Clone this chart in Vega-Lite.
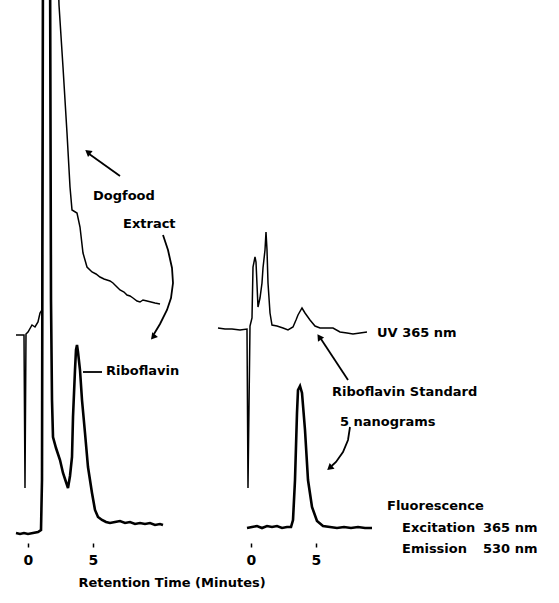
{
  "$schema": "https://vega.github.io/schema/vega-lite/v6.json",
  "padding": 0,
  "spacing": 0,
  "bounds": "flush",
  "background": "white",
  "config": {
    "view": {"stroke": null},
    "font": "DejaVu Sans",
    "text": {"font": "DejaVu Sans", "color": "black"}
  },
  "datasets": {
    "traces": [
      {"panel": "L", "series": "uv", "i": 1, "t": -0.923, "s": 206},
      {"panel": "L", "series": "uv", "i": 2, "t": -0.308, "s": 206},
      {"panel": "L", "series": "uv", "i": 3, "t": -0.231, "s": 53},
      {"panel": "L", "series": "uv", "i": 4, "t": -0.154, "s": 207},
      {"panel": "L", "series": "uv", "i": 5, "t": 0.0, "s": 209},
      {"panel": "L", "series": "uv", "i": 6, "t": 0.308, "s": 216},
      {"panel": "L", "series": "uv", "i": 7, "t": 0.538, "s": 214},
      {"panel": "L", "series": "uv", "i": 8, "t": 0.769, "s": 219},
      {"panel": "L", "series": "uv", "i": 9, "t": 0.923, "s": 228},
      {"panel": "L", "series": "uv", "i": 10, "t": 1.077, "s": 231},
      {"panel": "L", "series": "uv", "i": 11, "t": 1.192, "s": 601},
      {"panel": "L", "series": "uv", "i": 12, "t": 2.231, "s": 601},
      {"panel": "L", "series": "uv", "i": 13, "t": 2.385, "s": 536},
      {"panel": "L", "series": "uv", "i": 14, "t": 2.692, "s": 474},
      {"panel": "L", "series": "uv", "i": 15, "t": 3.0, "s": 408},
      {"panel": "L", "series": "uv", "i": 16, "t": 3.231, "s": 354},
      {"panel": "L", "series": "uv", "i": 17, "t": 3.385, "s": 331},
      {"panel": "L", "series": "uv", "i": 18, "t": 3.769, "s": 328},
      {"panel": "L", "series": "uv", "i": 19, "t": 4.0, "s": 314},
      {"panel": "L", "series": "uv", "i": 20, "t": 4.231, "s": 288},
      {"panel": "L", "series": "uv", "i": 21, "t": 4.538, "s": 274},
      {"panel": "L", "series": "uv", "i": 22, "t": 4.923, "s": 269},
      {"panel": "L", "series": "uv", "i": 23, "t": 5.231, "s": 267},
      {"panel": "L", "series": "uv", "i": 24, "t": 5.538, "s": 264},
      {"panel": "L", "series": "uv", "i": 25, "t": 5.846, "s": 262},
      {"panel": "L", "series": "uv", "i": 26, "t": 6.077, "s": 261},
      {"panel": "L", "series": "uv", "i": 27, "t": 6.308, "s": 260},
      {"panel": "L", "series": "uv", "i": 28, "t": 6.538, "s": 258},
      {"panel": "L", "series": "uv", "i": 29, "t": 6.846, "s": 254},
      {"panel": "L", "series": "uv", "i": 30, "t": 7.077, "s": 251},
      {"panel": "L", "series": "uv", "i": 31, "t": 7.385, "s": 249},
      {"panel": "L", "series": "uv", "i": 32, "t": 7.615, "s": 246},
      {"panel": "L", "series": "uv", "i": 33, "t": 7.846, "s": 245},
      {"panel": "L", "series": "uv", "i": 34, "t": 8.077, "s": 243},
      {"panel": "L", "series": "uv", "i": 35, "t": 8.385, "s": 240},
      {"panel": "L", "series": "uv", "i": 36, "t": 8.615, "s": 239},
      {"panel": "L", "series": "uv", "i": 37, "t": 8.846, "s": 241},
      {"panel": "L", "series": "uv", "i": 38, "t": 9.154, "s": 240},
      {"panel": "L", "series": "uv", "i": 39, "t": 9.462, "s": 239},
      {"panel": "L", "series": "uv", "i": 40, "t": 9.769, "s": 238},
      {"panel": "L", "series": "uv", "i": 41, "t": 10.154, "s": 237},

      {"panel": "L", "series": "fl", "i": 1, "t": -0.923, "s": 8},
      {"panel": "L", "series": "fl", "i": 2, "t": -0.615, "s": 7},
      {"panel": "L", "series": "fl", "i": 3, "t": -0.308, "s": 8},
      {"panel": "L", "series": "fl", "i": 4, "t": 0.0, "s": 7},
      {"panel": "L", "series": "fl", "i": 5, "t": 0.385, "s": 8},
      {"panel": "L", "series": "fl", "i": 6, "t": 0.769, "s": 9},
      {"panel": "L", "series": "fl", "i": 7, "t": 1.0, "s": 11},
      {"panel": "L", "series": "fl", "i": 8, "t": 1.077, "s": 61},
      {"panel": "L", "series": "fl", "i": 9, "t": 1.154, "s": 601},
      {"panel": "L", "series": "fl", "i": 10, "t": 1.692, "s": 601},
      {"panel": "L", "series": "fl", "i": 11, "t": 1.769, "s": 241},
      {"panel": "L", "series": "fl", "i": 12, "t": 1.846, "s": 141},
      {"panel": "L", "series": "fl", "i": 13, "t": 1.923, "s": 104},
      {"panel": "L", "series": "fl", "i": 14, "t": 2.154, "s": 93},
      {"panel": "L", "series": "fl", "i": 15, "t": 2.462, "s": 81},
      {"panel": "L", "series": "fl", "i": 16, "t": 2.692, "s": 68},
      {"panel": "L", "series": "fl", "i": 17, "t": 2.923, "s": 59},
      {"panel": "L", "series": "fl", "i": 18, "t": 3.077, "s": 53},
      {"panel": "L", "series": "fl", "i": 19, "t": 3.231, "s": 65},
      {"panel": "L", "series": "fl", "i": 20, "t": 3.385, "s": 84},
      {"panel": "L", "series": "fl", "i": 21, "t": 3.462, "s": 124},
      {"panel": "L", "series": "fl", "i": 22, "t": 3.615, "s": 171},
      {"panel": "L", "series": "fl", "i": 23, "t": 3.692, "s": 191},
      {"panel": "L", "series": "fl", "i": 24, "t": 3.769, "s": 196},
      {"panel": "L", "series": "fl", "i": 25, "t": 3.846, "s": 189},
      {"panel": "L", "series": "fl", "i": 26, "t": 4.0, "s": 171},
      {"panel": "L", "series": "fl", "i": 27, "t": 4.154, "s": 141},
      {"panel": "L", "series": "fl", "i": 28, "t": 4.385, "s": 108},
      {"panel": "L", "series": "fl", "i": 29, "t": 4.615, "s": 74},
      {"panel": "L", "series": "fl", "i": 30, "t": 4.923, "s": 48},
      {"panel": "L", "series": "fl", "i": 31, "t": 5.154, "s": 31},
      {"panel": "L", "series": "fl", "i": 32, "t": 5.385, "s": 24},
      {"panel": "L", "series": "fl", "i": 33, "t": 5.692, "s": 21},
      {"panel": "L", "series": "fl", "i": 34, "t": 6.0, "s": 19},
      {"panel": "L", "series": "fl", "i": 35, "t": 6.308, "s": 18},
      {"panel": "L", "series": "fl", "i": 36, "t": 6.692, "s": 19},
      {"panel": "L", "series": "fl", "i": 37, "t": 7.077, "s": 20},
      {"panel": "L", "series": "fl", "i": 38, "t": 7.462, "s": 18},
      {"panel": "L", "series": "fl", "i": 39, "t": 7.846, "s": 19},
      {"panel": "L", "series": "fl", "i": 40, "t": 8.231, "s": 17},
      {"panel": "L", "series": "fl", "i": 41, "t": 8.615, "s": 18},
      {"panel": "L", "series": "fl", "i": 42, "t": 9.0, "s": 17},
      {"panel": "L", "series": "fl", "i": 43, "t": 9.385, "s": 18},
      {"panel": "L", "series": "fl", "i": 44, "t": 9.769, "s": 16},
      {"panel": "L", "series": "fl", "i": 45, "t": 10.154, "s": 17},
      {"panel": "L", "series": "fl", "i": 46, "t": 10.385, "s": 16},

      {"panel": "R", "series": "uv", "i": 1, "t": -2.538, "s": 213},
      {"panel": "R", "series": "uv", "i": 2, "t": -2.0, "s": 212},
      {"panel": "R", "series": "uv", "i": 3, "t": -1.462, "s": 212},
      {"panel": "R", "series": "uv", "i": 4, "t": -0.846, "s": 211},
      {"panel": "R", "series": "uv", "i": 5, "t": -0.308, "s": 212},
      {"panel": "R", "series": "uv", "i": 6, "t": -0.231, "s": 53},
      {"panel": "R", "series": "uv", "i": 7, "t": -0.077, "s": 215},
      {"panel": "R", "series": "uv", "i": 8, "t": 0.077, "s": 223},
      {"panel": "R", "series": "uv", "i": 9, "t": 0.154, "s": 274},
      {"panel": "R", "series": "uv", "i": 10, "t": 0.308, "s": 284},
      {"panel": "R", "series": "uv", "i": 11, "t": 0.385, "s": 279},
      {"panel": "R", "series": "uv", "i": 12, "t": 0.538, "s": 234},
      {"panel": "R", "series": "uv", "i": 13, "t": 0.692, "s": 243},
      {"panel": "R", "series": "uv", "i": 14, "t": 0.846, "s": 258},
      {"panel": "R", "series": "uv", "i": 15, "t": 0.923, "s": 273},
      {"panel": "R", "series": "uv", "i": 16, "t": 1.077, "s": 291},
      {"panel": "R", "series": "uv", "i": 17, "t": 1.154, "s": 309},
      {"panel": "R", "series": "uv", "i": 18, "t": 1.231, "s": 291},
      {"panel": "R", "series": "uv", "i": 19, "t": 1.308, "s": 258},
      {"panel": "R", "series": "uv", "i": 20, "t": 1.462, "s": 228},
      {"panel": "R", "series": "uv", "i": 21, "t": 1.615, "s": 216},
      {"panel": "R", "series": "uv", "i": 22, "t": 2.0, "s": 215},
      {"panel": "R", "series": "uv", "i": 23, "t": 2.462, "s": 213},
      {"panel": "R", "series": "uv", "i": 24, "t": 2.846, "s": 211},
      {"panel": "R", "series": "uv", "i": 25, "t": 3.231, "s": 214},
      {"panel": "R", "series": "uv", "i": 26, "t": 3.462, "s": 221},
      {"panel": "R", "series": "uv", "i": 27, "t": 3.615, "s": 226},
      {"panel": "R", "series": "uv", "i": 28, "t": 3.923, "s": 233},
      {"panel": "R", "series": "uv", "i": 29, "t": 4.154, "s": 228},
      {"panel": "R", "series": "uv", "i": 30, "t": 4.538, "s": 221},
      {"panel": "R", "series": "uv", "i": 31, "t": 4.923, "s": 215},
      {"panel": "R", "series": "uv", "i": 32, "t": 5.308, "s": 213},
      {"panel": "R", "series": "uv", "i": 33, "t": 5.846, "s": 213},
      {"panel": "R", "series": "uv", "i": 34, "t": 6.308, "s": 213},
      {"panel": "R", "series": "uv", "i": 35, "t": 6.846, "s": 209},
      {"panel": "R", "series": "uv", "i": 36, "t": 7.385, "s": 208},
      {"panel": "R", "series": "uv", "i": 37, "t": 7.846, "s": 207},
      {"panel": "R", "series": "uv", "i": 38, "t": 8.385, "s": 208},
      {"panel": "R", "series": "uv", "i": 39, "t": 8.923, "s": 209},

      {"panel": "R", "series": "fl", "i": 1, "t": -0.308, "s": 13},
      {"panel": "R", "series": "fl", "i": 2, "t": 0.077, "s": 14},
      {"panel": "R", "series": "fl", "i": 3, "t": 0.462, "s": 15},
      {"panel": "R", "series": "fl", "i": 4, "t": 0.846, "s": 13},
      {"panel": "R", "series": "fl", "i": 5, "t": 1.231, "s": 15},
      {"panel": "R", "series": "fl", "i": 6, "t": 1.615, "s": 14},
      {"panel": "R", "series": "fl", "i": 7, "t": 2.0, "s": 15},
      {"panel": "R", "series": "fl", "i": 8, "t": 2.385, "s": 13},
      {"panel": "R", "series": "fl", "i": 9, "t": 2.769, "s": 14},
      {"panel": "R", "series": "fl", "i": 10, "t": 3.077, "s": 14},
      {"panel": "R", "series": "fl", "i": 11, "t": 3.231, "s": 21},
      {"panel": "R", "series": "fl", "i": 12, "t": 3.385, "s": 61},
      {"panel": "R", "series": "fl", "i": 13, "t": 3.538, "s": 128},
      {"panel": "R", "series": "fl", "i": 14, "t": 3.615, "s": 151},
      {"panel": "R", "series": "fl", "i": 15, "t": 3.769, "s": 155},
      {"panel": "R", "series": "fl", "i": 16, "t": 3.923, "s": 148},
      {"panel": "R", "series": "fl", "i": 17, "t": 4.154, "s": 111},
      {"panel": "R", "series": "fl", "i": 18, "t": 4.385, "s": 61},
      {"panel": "R", "series": "fl", "i": 19, "t": 4.692, "s": 34},
      {"panel": "R", "series": "fl", "i": 20, "t": 5.077, "s": 20},
      {"panel": "R", "series": "fl", "i": 21, "t": 5.538, "s": 15},
      {"panel": "R", "series": "fl", "i": 22, "t": 6.077, "s": 14},
      {"panel": "R", "series": "fl", "i": 23, "t": 6.615, "s": 13},
      {"panel": "R", "series": "fl", "i": 24, "t": 7.154, "s": 14},
      {"panel": "R", "series": "fl", "i": 25, "t": 7.692, "s": 13},
      {"panel": "R", "series": "fl", "i": 26, "t": 8.231, "s": 14},
      {"panel": "R", "series": "fl", "i": 27, "t": 8.769, "s": 13},
      {"panel": "R", "series": "fl", "i": 28, "t": 9.308, "s": 13}
    ],
    "arrows": [
      {"panel": "L", "id": "a1", "i": 1, "t": 7.077, "s": 365},
      {"panel": "L", "id": "a1", "i": 2, "t": 4.6, "s": 388},
      {"panel": "L", "id": "a2", "i": 1, "t": 10.385, "s": 306},
      {"panel": "L", "id": "a2", "i": 2, "t": 10.769, "s": 291},
      {"panel": "L", "id": "a2", "i": 3, "t": 11.077, "s": 273},
      {"panel": "L", "id": "a2", "i": 4, "t": 11.154, "s": 258},
      {"panel": "L", "id": "a2", "i": 5, "t": 11.0, "s": 243},
      {"panel": "L", "id": "a2", "i": 6, "t": 10.692, "s": 231},
      {"panel": "L", "id": "a2", "i": 7, "t": 10.154, "s": 217},
      {"panel": "L", "id": "a2", "i": 8, "t": 9.692, "s": 207},
      {"panel": "L", "id": "a3", "i": 1, "t": 4.231, "s": 169},
      {"panel": "L", "id": "a3", "i": 2, "t": 5.692, "s": 169},
      {"panel": "R", "id": "a4", "i": 1, "t": 7.462, "s": 161},
      {"panel": "R", "id": "a4", "i": 2, "t": 5.385, "s": 202},
      {"panel": "R", "id": "a5", "i": 1, "t": 7.615, "s": 114},
      {"panel": "R", "id": "a5", "i": 2, "t": 7.462, "s": 101},
      {"panel": "R", "id": "a5", "i": 3, "t": 7.077, "s": 89},
      {"panel": "R", "id": "a5", "i": 4, "t": 6.538, "s": 79},
      {"panel": "R", "id": "a5", "i": 5, "t": 6.2, "s": 75}
    ],
    "heads": [
      {"panel": "L", "id": "a1", "t": 4.6, "s": 389},
      {"panel": "L", "id": "a2", "t": 9.62, "s": 204},
      {"panel": "R", "id": "a4", "t": 5.25, "s": 204},
      {"panel": "R", "id": "a5", "t": 6.05, "s": 73}
    ],
    "labels": [
      {"panel": "L", "t": 5.0, "s": 345, "label": "Dogfood"},
      {"panel": "L", "t": 7.308, "s": 317, "label": "Extract"},
      {"panel": "L", "t": 6.0, "s": 170, "label": "Riboflavin"},
      {"panel": "R", "t": 9.692, "s": 208, "label": "UV 365 nm"},
      {"panel": "R", "t": 6.231, "s": 149, "label": "Riboflavin Standard"},
      {"panel": "R", "t": 6.846, "s": 119, "label": "5 nanograms"},
      {"panel": "R", "t": 10.462, "s": 35, "label": "Fluorescence"},
      {"panel": "R", "t": 11.615, "s": 13, "label": "Excitation"},
      {"panel": "R", "t": 17.846, "s": 13, "label": "365 nm"},
      {"panel": "R", "t": 11.615, "s": -8, "label": "Emission"},
      {"panel": "R", "t": 17.846, "s": -8, "label": "530 nm"}
    ],
    "titles": [
      {"panel": "L", "t": 11.077, "s": -42, "label": "Retention Time (Minutes)"}
    ]
  },
  "hconcat": [
    {
      "width": 210,
      "height": 541,
      "encoding": {
        "x": {"field": "t", "type": "quantitative",
              "scale": {"domain": [-2.1538, 14.0], "nice": false, "zero": false},
              "axis": {"values": [0, 5], "domain": false, "grid": false, "tickSize": 4, "tickWidth": 1.5, "tickColor": "black", "offset": 2, "labelFontSize": 14, "labelFontWeight": "bold", "labelColor": "black", "labelFont": "DejaVu Sans", "labelPadding": 6, "title": null}},
        "y": {"field": "s", "type": "quantitative",
              "scale": {"domain": [0, 541], "nice": false, "zero": false}, "axis": null}
      },
      "layer": [
        {"data": {"name": "traces"}, "transform": [{"filter": "datum.panel == 'L' && datum.series == 'uv'"}],
         "mark": {"type": "line", "clip": true, "color": "black", "strokeWidth": 1.5},
         "encoding": {"order": {"field": "i", "type": "quantitative"}}},
        {"data": {"name": "traces"}, "transform": [{"filter": "datum.panel == 'L' && datum.series == 'fl'"}],
         "mark": {"type": "line", "clip": true, "color": "black", "strokeWidth": 2.6},
         "encoding": {"order": {"field": "i", "type": "quantitative"}}},
        {"data": {"name": "arrows"}, "transform": [{"filter": "datum.panel == 'L'"}],
         "mark": {"type": "line", "color": "black", "strokeWidth": 1.8},
         "encoding": {"detail": {"field": "id"}, "order": {"field": "i", "type": "quantitative"}}},
        {"data": {"name": "heads"}, "transform": [{"filter": "datum.id == 'a1'"}],
         "mark": {"type": "point", "shape": "triangle-up", "filled": true, "color": "black", "opacity": 1, "size": 55, "angle": 308}},
        {"data": {"name": "heads"}, "transform": [{"filter": "datum.id == 'a2'"}],
         "mark": {"type": "point", "shape": "triangle-up", "filled": true, "color": "black", "opacity": 1, "size": 55, "angle": 220}},
        {"data": {"name": "labels"}, "transform": [{"filter": "datum.panel == 'L'"}],
         "mark": {"type": "text", "align": "left", "baseline": "middle", "fontSize": 13, "fontWeight": "bold", "color": "black"},
         "encoding": {"text": {"field": "label"}}},
        {"data": {"name": "titles"},
         "mark": {"type": "text", "align": "center", "baseline": "middle", "fontSize": 13, "fontWeight": "bold", "color": "black"},
         "encoding": {"text": {"field": "label"}}}
      ]
    },
    {
      "width": 349,
      "height": 541,
      "encoding": {
        "x": {"field": "t", "type": "quantitative",
              "scale": {"domain": [-3.1538, 23.6923], "nice": false, "zero": false},
              "axis": {"values": [0, 5], "domain": false, "grid": false, "tickSize": 4, "tickWidth": 1.5, "tickColor": "black", "offset": 2, "labelFontSize": 14, "labelFontWeight": "bold", "labelColor": "black", "labelFont": "DejaVu Sans", "labelPadding": 6, "title": null}},
        "y": {"field": "s", "type": "quantitative",
              "scale": {"domain": [0, 541], "nice": false, "zero": false}, "axis": null}
      },
      "layer": [
        {"data": {"name": "traces"}, "transform": [{"filter": "datum.panel == 'R' && datum.series == 'uv'"}],
         "mark": {"type": "line", "clip": true, "color": "black", "strokeWidth": 1.5},
         "encoding": {"order": {"field": "i", "type": "quantitative"}}},
        {"data": {"name": "traces"}, "transform": [{"filter": "datum.panel == 'R' && datum.series == 'fl'"}],
         "mark": {"type": "line", "clip": true, "color": "black", "strokeWidth": 2.6},
         "encoding": {"order": {"field": "i", "type": "quantitative"}}},
        {"data": {"name": "arrows"}, "transform": [{"filter": "datum.panel == 'R'"}],
         "mark": {"type": "line", "color": "black", "strokeWidth": 1.8},
         "encoding": {"detail": {"field": "id"}, "order": {"field": "i", "type": "quantitative"}}},
        {"data": {"name": "heads"}, "transform": [{"filter": "datum.id == 'a4'"}],
         "mark": {"type": "point", "shape": "triangle-up", "filled": true, "color": "black", "opacity": 1, "size": 55, "angle": 326}},
        {"data": {"name": "heads"}, "transform": [{"filter": "datum.id == 'a5'"}],
         "mark": {"type": "point", "shape": "triangle-up", "filled": true, "color": "black", "opacity": 1, "size": 55, "angle": 229}},
        {"data": {"name": "labels"}, "transform": [{"filter": "datum.panel == 'R'"}],
         "mark": {"type": "text", "align": "left", "baseline": "middle", "fontSize": 13, "fontWeight": "bold", "color": "black"},
         "encoding": {"text": {"field": "label"}}}
      ]
    }
  ]
}
